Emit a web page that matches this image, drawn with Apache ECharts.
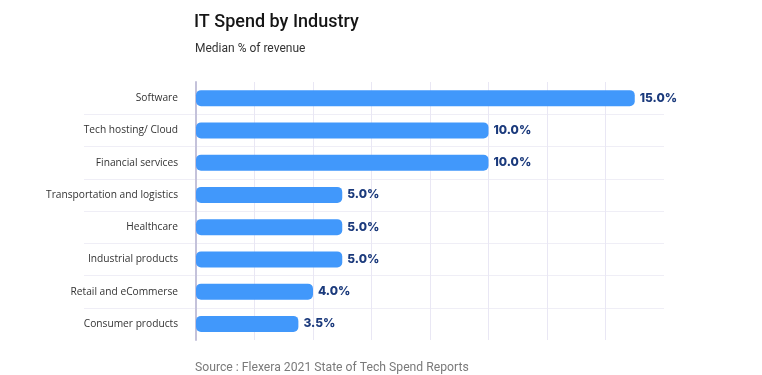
<!DOCTYPE html>
<html>
<head>
<meta charset="utf-8">
<script src="https://cdn.jsdelivr.net/npm/echarts@6/dist/echarts.min.js"></script>
<style>html,body{margin:0;padding:0;background:#fff}#c{width:762px;height:375px}</style>
</head>
<body>
<div id="c"></div>
<script>
var categories = ['Software','Tech hosting/ Cloud','Financial services','Transportation and logistics','Healthcare','Industrial products','Retail and eCommerse','Consumer products'];
var values = [15.0, 10.0, 10.0, 5.0, 5.0, 5.0, 4.0, 3.5];
var titleText = 'IT Spend by Industry';
var subtitleText = 'Median % of revenue';
var sourceText = 'Source : Flexera 2021 State of Tech Spend Reports';

var chart = echarts.init(document.getElementById('c'), null, {renderer:'canvas'});
chart.setOption({
  backgroundColor:'#ffffff',
  animation:false,
  title:[
    {text:titleText, left:189, top:8, textStyle:{fontFamily:'Roboto', fontSize:18, fontWeight:500, color:'#151515'}},
    {text:subtitleText, left:190, top:38, textStyle:{fontFamily:'Roboto', fontSize:12, fontWeight:'normal', color:'#333333'}},
    {text:sourceText, left:190, top:357, textStyle:{fontFamily:'Roboto', fontSize:12.2, fontWeight:'normal', color:'#7a7a7a'}}
  ],
  grid:[
    {left:196, right:98, top:82, bottom:35},
    {left:84, right:98, top:82, bottom:35}
  ],
  xAxis:[
    {type:'value', gridIndex:0, min:0, max:16, interval:2,
     axisLine:{show:false}, axisTick:{show:false}, axisLabel:{show:false},
     splitLine:{show:true, showMaxLine:false, lineStyle:{color:'#e9e7f4', width:1}}},
    {type:'value', gridIndex:1, min:0, max:1, show:false, splitLine:{show:false}}
  ],
  yAxis:[
    {type:'category', gridIndex:0, data:categories, inverse:true,
     axisLine:{show:true, lineStyle:{color:'#c4c2da', width:2}},
     axisTick:{show:false},
     axisLabel:{margin:18, fontFamily:'Open Sans', fontSize:10.2, color:'#333333'},
     splitLine:{show:false}},
    {type:'category', gridIndex:1, data:categories, inverse:true,
     axisLine:{show:false}, axisTick:{show:false}, axisLabel:{show:false},
     splitLine:{show:true, showMinLine:false, showMaxLine:false, lineStyle:{color:'#efeef6', width:1}}}
  ],
  series:[{
    type:'bar', xAxisIndex:0, yAxisIndex:0, data:values, barWidth:16,
    itemStyle:{color:'#4198fb', borderRadius:5},
    label:{show:true, position:'right', distance:5, fontFamily:'Inter', fontWeight:800, fontSize:12, color:'#1b3a7c',
      formatter:function(p){return p.value.toFixed(1)+'%';}}
  }]
});
</script>
</body>
</html>
